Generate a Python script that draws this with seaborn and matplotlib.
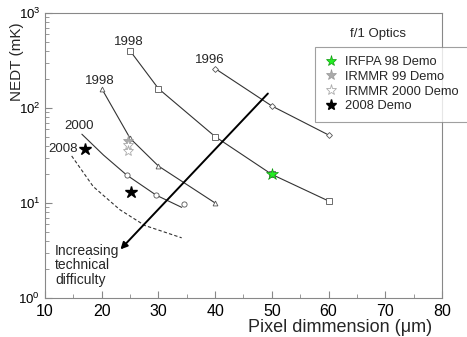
import numpy as np
import pandas as pd
import seaborn as sns
import matplotlib.pyplot as plt
from matplotlib.lines import Line2D
from matplotlib.ticker import MultipleLocator, LogLocator

# curves (pixel size in um, NEDT in mK)
sq_x = [25, 30, 40, 50, 60]
sq_y = [400, 160, 50, 20, 10.5]
di_x = [40, 50, 60]
di_y = [260, 105, 52]
tri_x = [20, 25, 30, 40]
tri_y = [160, 48, 24.5, 10]
c_line_x = [16.5, 20.3, 24.4, 29.6, 34.1]
c_line_y = [53, 32, 19.7, 12.1, 9.0]
c_mark_x = [24.4, 29.6, 34.5]
c_mark_y = [19.7, 12.1, 9.8]
d_x = [14.7, 18.5, 23.2, 27.6, 34.1]
d_y = [31.3, 14.9, 8.5, 5.8, 4.3]

# demo points
irfpa98 = (50, 20)
irmmr99 = (24.7, 45)
irmmr2000_x = [24.7, 24.7]
irmmr2000_y = [40.8, 35.6]
demo2008_x = [17.0, 25.2]
demo2008_y = [37, 13.2]

curve_labels = ["1998", "1996", "1998", "2000", "2008"]
label_x = [24.7, 39.1, 19.7, 16.0, 13.2]
label_y = [500, 320, 192, 65, 37]

sns.set_style("ticks")
plt.rcParams['font.family'] = ['Liberation Sans', 'DejaVu Sans']

fig = plt.figure(figsize=(4.67, 3.37), dpi=100)
ax = fig.add_axes([0.0964, 0.1157, 0.85, 0.8457])

lc = '#333333'
sns.lineplot(x=sq_x, y=sq_y, ax=ax, color=lc, lw=0.8, marker='s', ms=4,
             mfc='white', mec='#555555', mew=0.6)
sns.lineplot(x=di_x, y=di_y, ax=ax, color=lc, lw=0.8, marker='D', ms=3,
             mfc='white', mec='#555555', mew=0.6)
sns.lineplot(x=tri_x, y=tri_y, ax=ax, color=lc, lw=0.8, marker='^', ms=3.5,
             mfc='white', mec='#555555', mew=0.6)
sns.lineplot(x=c_line_x, y=c_line_y, ax=ax, color=lc, lw=0.8)
sns.scatterplot(x=c_mark_x, y=c_mark_y, ax=ax, marker='o', s=14,
                facecolor='white', edgecolor='#555555', linewidth=0.6, zorder=3)
sns.lineplot(x=d_x, y=d_y, ax=ax, color=lc, lw=0.8, linestyle=(0, (3, 2)))

# demo stars
ax.plot(*irfpa98, marker='*', ms=9, mfc='#22ee22', mec='#119911', mew=0.5, zorder=5)
ax.plot(*irmmr99, marker='*', ms=8, mfc='#aaaaaa', mec='#999999', mew=0.5, zorder=5)
ax.plot(irmmr2000_x, irmmr2000_y, ls='none', marker='*', ms=8, mfc='white',
        mec='#aaaaaa', mew=0.6, zorder=5)
ax.plot(demo2008_x, demo2008_y, ls='none', marker='*', ms=9, color='black', zorder=5)

for t, x, y in zip(curve_labels, label_x, label_y):
    ax.text(x, y, t, ha='center', va='center', fontsize=9.5)

ax.annotate('', xy=(23.3, 3.25), xytext=(49.3, 142),
            arrowprops=dict(arrowstyle='-|>', color='black', lw=1.4,
                            mutation_scale=10, shrinkA=0, shrinkB=0))
ax.text(11.8, 2.2, 'Increasing\ntechnical\ndifficulty', ha='left', va='center',
        fontsize=10, linespacing=1.05)

ax.set_yscale('log')
ax.set_xlim(10, 80)
ax.set_ylim(1, 1000)
ax.xaxis.set_major_locator(MultipleLocator(10))
ax.xaxis.set_minor_locator(MultipleLocator(5))
ax.yaxis.set_major_locator(LogLocator(base=10, numticks=5))
ax.yaxis.set_minor_locator(LogLocator(base=10, subs=np.arange(2, 10), numticks=20))
ax.tick_params(axis='both', which='both', direction='in', colors='#888888',
               labelcolor='black')
ax.tick_params(axis='both', which='major', length=5, width=0.8)
ax.tick_params(axis='both', which='minor', length=3, width=0.6)
ax.tick_params(axis='x', labelsize=11.5, pad=4)
ax.tick_params(axis='y', labelsize=9.5)
for s in ax.spines.values():
    s.set_visible(True)
    s.set_color('#888888')
    s.set_linewidth(0.8)

ax.set_xlabel('Pixel dimmension (\u03bcm)', fontsize=13)
ax.set_ylabel('NEDT (mK)', fontsize=11)
ax.xaxis.set_label_coords(0.743, -0.072)
ax.yaxis.set_label_coords(-0.052, 0.83)

handles = [
    Line2D([], [], ls='none', marker='*', ms=8, mfc='#22ee22', mec='#119911', mew=0.5),
    Line2D([], [], ls='none', marker='*', ms=8, mfc='#aaaaaa', mec='#999999', mew=0.5),
    Line2D([], [], ls='none', marker='*', ms=8, mfc='white', mec='#aaaaaa', mew=0.6),
    Line2D([], [], ls='none', marker='*', ms=8, color='black'),
]
names = ['IRFPA 98 Demo', 'IRMMR 99 Demo', 'IRMMR 2000 Demo', '2008 Demo']
leg = ax.legend(handles, names, loc='upper left', bbox_to_anchor=(0.68, 0.882),
                fontsize=9.3, frameon=True, fancybox=False, handlelength=1.0,
                handletextpad=0.6, borderpad=0.75, labelspacing=0.2,
                borderaxespad=0)
leg.get_frame().set_edgecolor('#888888')
leg.get_frame().set_linewidth(0.8)
ax.text(0.838, 0.905, 'f/1 Optics', transform=ax.transAxes, ha='center',
        va='bottom', fontsize=9.5)

fig.savefig('out.png', dpi=100)
